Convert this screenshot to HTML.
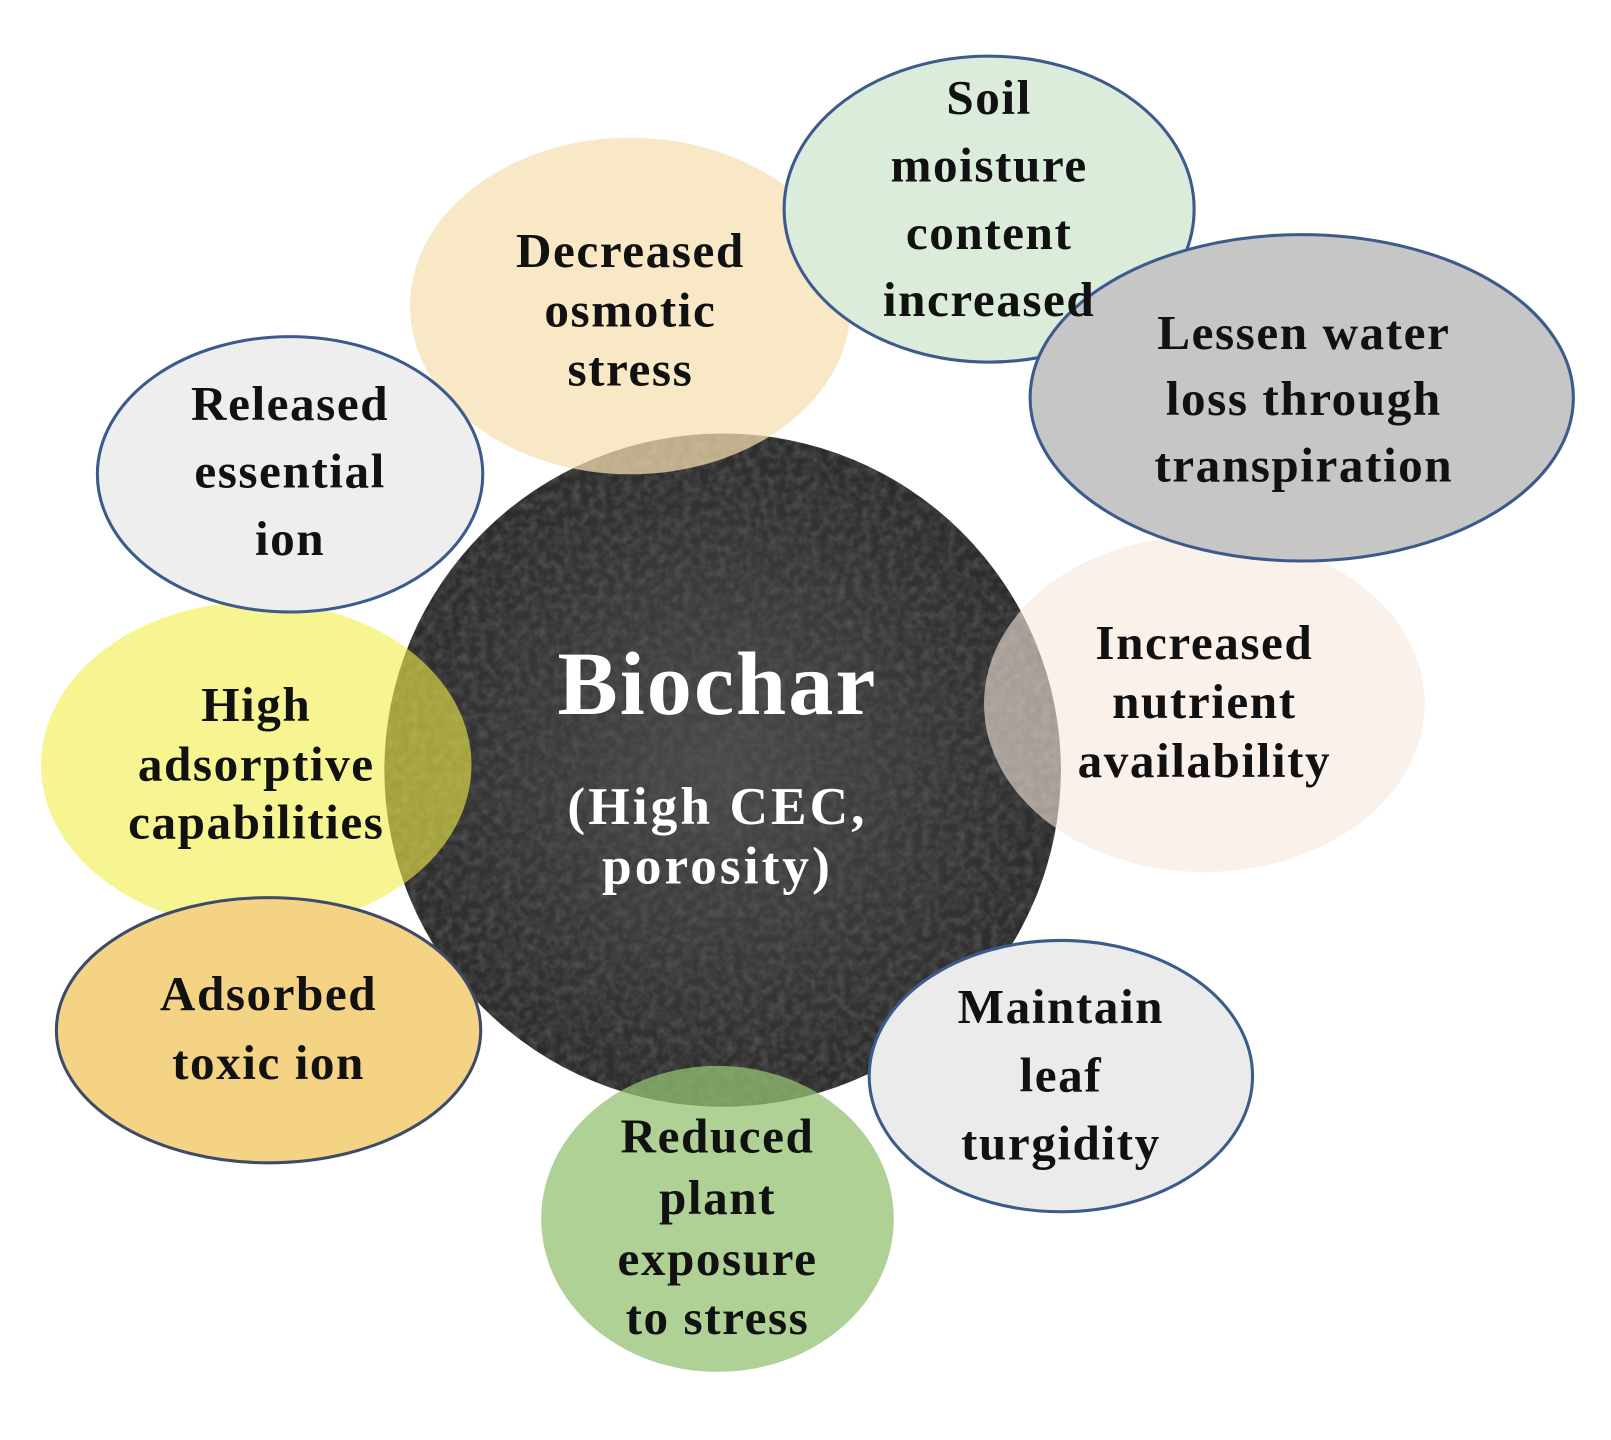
<!DOCTYPE html>
<html><head><meta charset="utf-8"><style>
html,body{margin:0;padding:0;background:#fff}
svg{display:block}
text{font-family:"Liberation Serif",serif;font-weight:bold;text-anchor:middle;fill:#111}
</style></head><body>
<svg width="1611" height="1440" viewBox="0 0 1611 1440" xmlns="http://www.w3.org/2000/svg">
<defs>
<filter id="noise" x="0" y="0" width="100%" height="100%">
<feTurbulence type="fractalNoise" baseFrequency="0.12" numOctaves="2" seed="4"/>
<feColorMatrix type="matrix" values="0 0 0 0 0.1  0 0 0 0 0.1  0 0 0 0 0.1  1.6 0 0 0 -0.55"/>
<feComposite in2="SourceGraphic" operator="in"/>
</filter>
<radialGradient id="g" cx="50%" cy="50%" r="50%"><stop offset="0" stop-color="#4a4a4a"/><stop offset="1" stop-color="#2c2c2c"/></radialGradient>
</defs>
<g transform="scale(1.025,1.02)">
<circle cx="705" cy="755" r="330" fill="url(#g)"/>
<circle cx="705" cy="755" r="330" fill="#9a9a9a" filter="url(#noise)" opacity="0.9"/>

<ellipse cx="615" cy="300" rx="215" ry="165" fill="#f5dfae" opacity="0.72"/>
<ellipse cx="250" cy="750" rx="210" ry="160" fill="#f2ee4a" opacity="0.6"/>
<ellipse cx="1175" cy="690" rx="215" ry="165" fill="#f8e8de" opacity="0.6"/>
<ellipse cx="700" cy="1195" rx="172" ry="150" fill="#96c272" opacity="0.75"/>
<ellipse cx="965" cy="205" rx="200" ry="150" fill="#dcecda" stroke="#3d5a8c" stroke-width="3"/>
<ellipse cx="1270" cy="390" rx="265" ry="160" fill="#c6c6c6" stroke="#3d5a8c" stroke-width="3"/>
<ellipse cx="283" cy="465" rx="188" ry="135" fill="#eeeeee" stroke="#3d5a8c" stroke-width="3"/>
<ellipse cx="262" cy="1010" rx="207" ry="130" fill="#f5d385" stroke="#3d4a6a" stroke-width="3"/>
<ellipse cx="1035" cy="1055" rx="187" ry="133" fill="#ebebeb" stroke="#3d5a8c" stroke-width="3"/>

<g font-size="48" letter-spacing="1.5">
<text x="615" y="262">Decreased</text><text x="615" y="320">osmotic</text><text x="615" y="378">stress</text>
<text x="965" y="112">Soil</text><text x="965" y="178">moisture</text><text x="965" y="244">content</text><text x="965" y="310">increased</text>
<text x="1272" y="342">Lessen water</text><text x="1272" y="407">loss through</text><text x="1272" y="472">transpiration</text>
<text x="283" y="412">Released</text><text x="283" y="478">essential</text><text x="283" y="544">ion</text>
<text x="250" y="707">High</text><text x="250" y="765">adsorptive</text><text x="250" y="822">capabilities</text>
<text x="1175" y="646">Increased</text><text x="1175" y="704">nutrient</text><text x="1175" y="762">availability</text>
<text x="262" y="990">Adsorbed</text><text x="262" y="1058">toxic ion</text>
<text x="1035" y="1003">Maintain</text><text x="1035" y="1070">leaf</text><text x="1035" y="1137">turgidity</text>
<text x="700" y="1130">Reduced</text><text x="700" y="1190">plant</text><text x="700" y="1250">exposure</text><text x="700" y="1308">to stress</text>
</g>
<text x="700" y="700" font-size="88" letter-spacing="2" style="fill:#fff">Biochar</text>
<text x="700" y="808" font-size="52" letter-spacing="3" style="fill:#fff">(High CEC,</text>
<text x="700" y="866" font-size="52" letter-spacing="3" style="fill:#fff">porosity)</text>
</g>
</svg>
</body></html>
